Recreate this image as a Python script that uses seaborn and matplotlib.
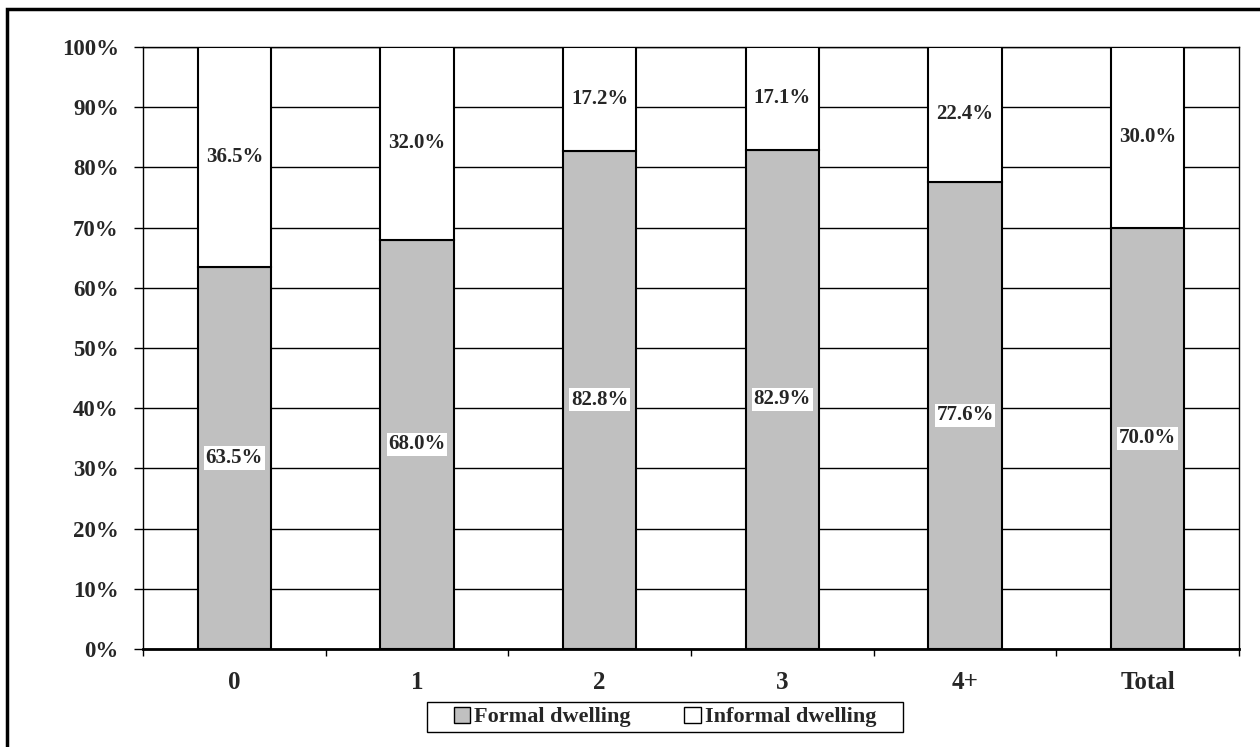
import matplotlib
matplotlib.use("Agg")
import matplotlib.pyplot as plt
import matplotlib.patches as mpatches
from matplotlib.ticker import FixedLocator, PercentFormatter
import pandas as pd
import seaborn as sns

# Share of households by dwelling type, per number of members
categories = ["0", "1", "2", "3", "4+", "Total"]
formal = [63.5, 68.0, 82.8, 82.9, 77.6, 70.0]
informal = [36.5, 32.0, 17.2, 17.1, 22.4, 30.0]
series_names = ["Formal dwelling", "Informal dwelling"]
y_ticks = [0, 10, 20, 30, 40, 50, 60, 70, 80, 90, 100]

sns.set_theme(style="white")
plt.rcParams["font.family"] = ["Liberation Serif", "DejaVu Serif"]
plt.rcParams["font.weight"] = "bold"

df = pd.DataFrame({"group": categories, "formal": formal, "informal": informal})

W, H = 1260, 747
fig = plt.figure(figsize=(W / 100, H / 100), dpi=100)
ax = fig.add_axes([143 / W, 1 - 649 / H, 1096 / W, 602 / H])

gray = "#C0C0C0"
sns.barplot(data=df, x="group", y="formal", order=categories, color=gray,
            width=0.4, edgecolor="black", linewidth=1.5, saturation=1,
            ax=ax, zorder=3)
sns.barplot(data=df, x="group", y="informal", order=categories, color="white",
            width=0.4, edgecolor="black", linewidth=1.5, saturation=1,
            bottom=df["formal"], ax=ax, zorder=3)

ax.set_xlim(-0.5, len(categories) - 0.5)
ax.set_ylim(0, 100)
ax.set_xlabel("")
ax.set_ylabel("")

# value labels centred in each segment
for i, (f, inf) in enumerate(zip(formal, informal)):
    ax.text(i, f / 2, f"{f:.1f}%", ha="center", va="center", fontsize=15,
            fontweight="bold", zorder=5,
            bbox=dict(facecolor="white", edgecolor="none", pad=1.2))
    ax.text(i, f + inf / 2, f"{inf:.1f}%", ha="center", va="center",
            fontsize=15, fontweight="bold", zorder=5)

# axes styling
ax.yaxis.set_major_locator(FixedLocator(y_ticks))
ax.yaxis.set_major_formatter(PercentFormatter(decimals=0))
ax.grid(axis="y", color="black", linewidth=1.0, zorder=0)
ax.grid(axis="x", visible=False)
ax.set_axisbelow(True)
ax.tick_params(axis="y", which="major", direction="out", length=6.5, width=1,
               color="black", labelsize=16.5, pad=11, left=True)
ax.tick_params(axis="x", which="major", length=0, labelsize=18, pad=16)
ax.xaxis.set_minor_locator(FixedLocator([i - 0.5 for i in range(len(categories) + 1)]))
ax.tick_params(axis="x", which="minor", direction="out", length=5, width=1,
               color="black", bottom=True)
for lbl in ax.get_xticklabels() + ax.get_yticklabels():
    lbl.set_fontweight("bold")
for side in ["left", "top", "right"]:
    ax.spines[side].set_color("black")
    ax.spines[side].set_linewidth(1.0)
ax.spines["bottom"].set_color("black")
ax.spines["bottom"].set_linewidth(2.0)

# legend, with its box drawn separately for wider side margins
handles = [mpatches.Patch(facecolor=gray, edgecolor="black", linewidth=1),
           mpatches.Patch(facecolor="white", edgecolor="black", linewidth=1)]
leg = fig.legend(handles, series_names, loc="center",
                 bbox_to_anchor=(665 / W, 1 - 717 / H), ncol=2,
                 prop={"family": "Liberation Serif", "weight": "bold", "size": 16},
                 handlelength=0.75, handleheight=0.75, handletextpad=0.18,
                 columnspacing=2.4, borderpad=0.2, frameon=False)
fig.patches.append(mpatches.Rectangle((427 / W, 1 - 732 / H), 476 / W, 30 / H,
                                      transform=fig.transFigure, fill=False,
                                      edgecolor="black", linewidth=1.0))

# outer chart frame
fig.patches.append(mpatches.Rectangle((7 / W, -0.05), 1.1, 1 - 9 / H + 0.05,
                                      transform=fig.transFigure, fill=False,
                                      edgecolor="black", linewidth=2.5,
                                      clip_on=False))

fig.savefig("out.png", dpi=100)
